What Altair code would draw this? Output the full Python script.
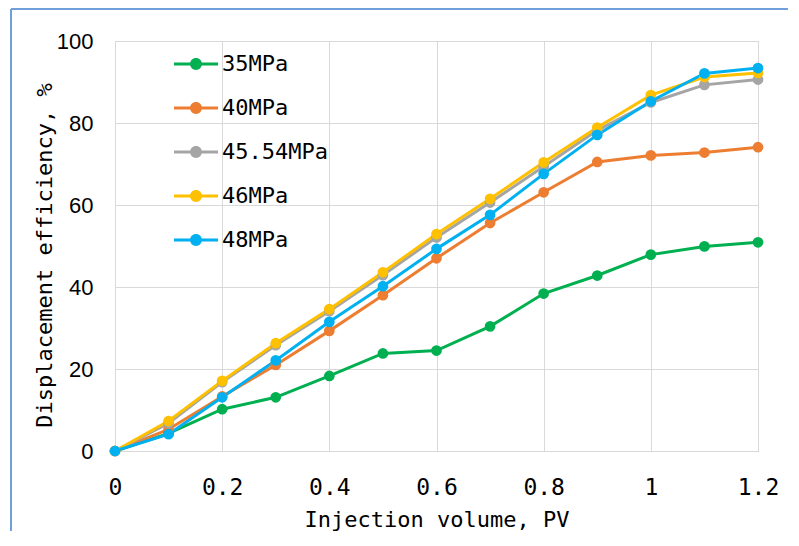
import altair as alt
import pandas as pd

injection_pv = [0, 0.1, 0.2, 0.3, 0.4, 0.5, 0.6, 0.7, 0.8, 0.9, 1.0, 1.1, 1.2]
series_names = ["35MPa", "40MPa", "45.54MPa", "46MPa", "48MPa"]
eff_35 = [0, 4.3, 10.2, 13.1, 18.3, 23.8, 24.5, 30.4, 38.4, 42.8, 47.9, 49.9, 50.9]
eff_40 = [0, 5.3, 13.3, 21.0, 29.3, 38.0, 47.0, 55.6, 63.1, 70.5, 72.1, 72.8, 74.1]
eff_4554 = [0, 6.8, 16.8, 25.8, 34.1, 42.9, 52.1, 60.6, 69.4, 78.2, 85.0, 89.3, 90.6]
eff_46 = [0, 7.3, 17.1, 26.3, 34.6, 43.6, 52.9, 61.5, 70.4, 78.9, 86.8, 91.2, 92.2]
eff_48 = [0, 4.1, 13.1, 22.1, 31.5, 40.2, 49.3, 57.6, 67.6, 77.1, 85.3, 92.1, 93.4]
colors = ["#00B050", "#ED7D31", "#A5A5A5", "#FFC000", "#00B0F0"]
x_ticks = [0, 0.2, 0.4, 0.6, 0.8, 1.0, 1.2]
y_ticks = [0, 20, 40, 60, 80, 100]

rows = []
for name, vals in zip(series_names, [eff_35, eff_40, eff_4554, eff_46, eff_48]):
    for xv, yv in zip(injection_pv, vals):
        rows.append({"pv": xv, "eff": yv, "series": name, "k": series_names.index(name)})
df = pd.DataFrame(rows)

mono = "DejaVu Sans Mono"
color_scale = alt.Scale(domain=series_names, range=colors)

x_enc = alt.X("pv:Q", scale=alt.Scale(domain=[0, 1.2], nice=False),
              axis=alt.Axis(values=x_ticks, format="~g", grid=True, gridColor="#D9D9D9",
                            ticks=False, domain=False, labelFont=mono, labelFontSize=23,
                            labelColor="black", labelPadding=25, labelFlush=False,
                            title="Injection volume, PV", titleFont=mono, titleFontSize=22,
                            titleFontWeight="normal", titleColor="black", titlePadding=10))
y_enc = alt.Y("eff:Q", scale=alt.Scale(domain=[0, 100], nice=False),
              axis=alt.Axis(values=y_ticks, format="d", grid=True, gridColor="#D9D9D9",
                            ticks=False, domain=False, labelFont="Liberation Sans",
                            labelFontSize=22, labelColor="black", labelPadding=22,
                            labelFlush=False,
                            title="Displacement efficiency, %", titleFont=mono,
                            titleFontSize=22, titleFontWeight="normal", titleColor="black",
                            titlePadding=0, titleY=214))

legend_path = ("M-1,-0.07H-0.2V0.07H-1Z M0.2,-0.07H1V0.07H0.2Z "
               "M0.27,0A0.27,0.27,0,1,1,-0.27,0A0.27,0.27,0,1,1,0.27,0Z")
legend = alt.Legend(title=None, orient="none", legendX=59, legendY=1,
                    symbolType=legend_path, symbolSize=1936,
                    symbolStrokeWidth=0, symbolOpacity=1,
                    labelFont=mono, labelFontSize=22, labelColor="black",
                    labelOffset=4, rowPadding=11, padding=0)

lines = alt.Chart(df).mark_line(strokeWidth=3).encode(
    x=x_enc, y=y_enc,
    color=alt.Color("series:N", scale=color_scale, legend=legend),
)
points = alt.Chart(df).mark_point(filled=True, size=115, opacity=1).encode(
    x=x_enc, y=y_enc,
    color=alt.Color("series:N", scale=color_scale, legend=legend),
    order=alt.Order("k:Q"),
)

frame_df = pd.DataFrame({"a": [0]})
frame_v = alt.Chart(frame_df).mark_rule(color="#6FA0DC", strokeWidth=2).encode(
    x=alt.value(-104), y=alt.value(-32), y2=alt.value(600))
frame_h = alt.Chart(frame_df).mark_rule(color="#6FA0DC", strokeWidth=2).encode(
    x=alt.value(-104), x2=alt.value(800), y=alt.value(-32))

chart = alt.layer(frame_v, frame_h, lines, points).properties(
    width=643, height=410,
    autosize=alt.AutoSizeParams(type="none"),
    padding={"left": 107, "top": 33, "right": 30, "bottom": 80},
).configure_view(stroke="#BFBFBF", strokeWidth=1)

chart.save("out.html", embed_options={"renderer": "svg", "actions": False})
